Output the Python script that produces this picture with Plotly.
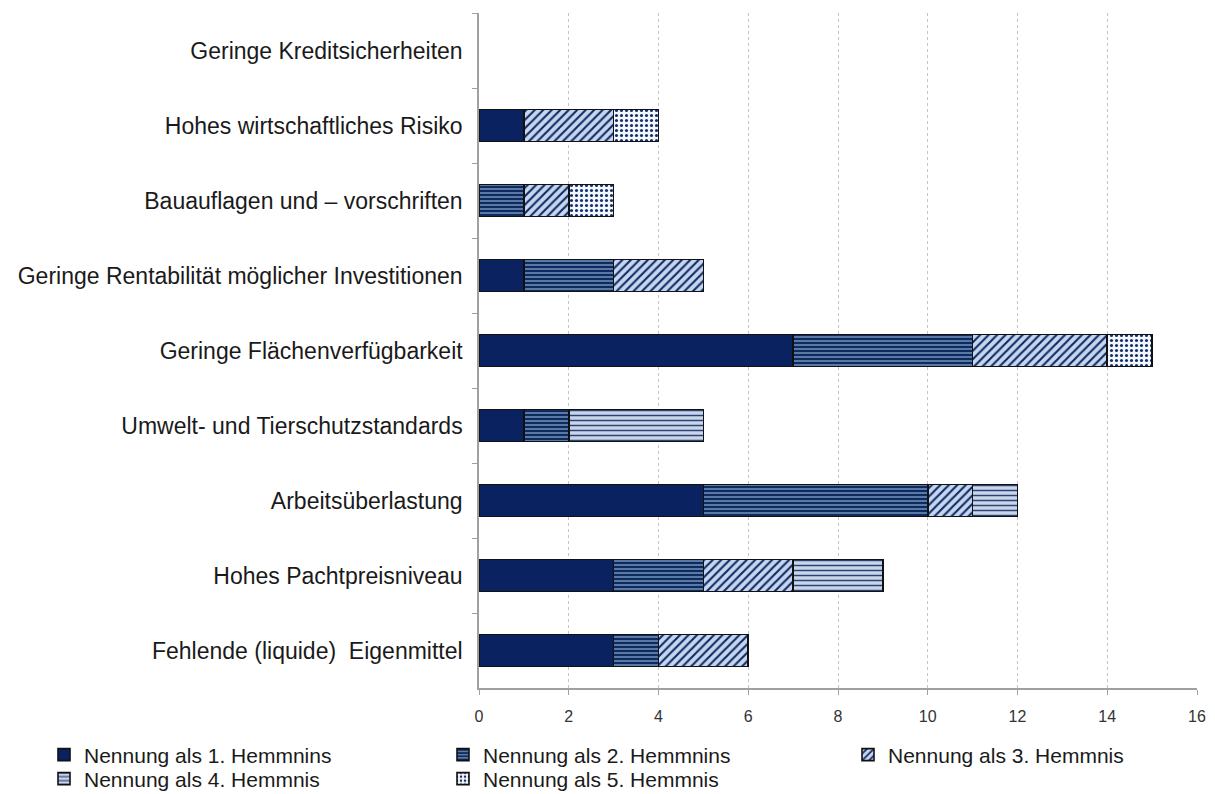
import plotly.graph_objects as go

# Obstacles, listed from top to bottom
categories = [
    "Geringe Kreditsicherheiten",
    "Hohes wirtschaftliches Risiko",
    "Bauauflagen und – vorschriften",
    "Geringe Rentabilität möglicher Investitionen",
    "Geringe Flächenverfügbarkeit",
    "Umwelt- und Tierschutzstandards",
    "Arbeitsüberlastung",
    "Hohes Pachtpreisniveau",
    "Fehlende (liquide)  Eigenmittel",
]

series_names = [
    "Nennung als 1. Hemmnins",
    "Nennung als 2. Hemmnins",
    "Nennung als 3. Hemmnis",
    "Nennung als 4. Hemmnis",
    "Nennung als 5. Hemmnis",
]

rank1 = [0, 1, 0, 1, 7, 1, 5, 3, 3]
rank2 = [0, 0, 1, 2, 4, 1, 5, 2, 1]
rank3 = [0, 2, 1, 2, 3, 0, 1, 2, 2]
rank4 = [0, 0, 0, 0, 0, 3, 1, 2, 0]
rank5 = [0, 1, 1, 0, 1, 0, 0, 0, 0]

x_ticks = [0, 2, 4, 6, 8, 10, 12, 14, 16]

NAVY = "#0b2260"
FONT = "Liberation Sans, Arial, sans-serif"
TEXT = "#1a1a1a"

styles = [
    dict(color=NAVY, pattern=dict(shape="")),
    dict(color="#46638f", pattern=dict(shape="-", fgcolor="#0e2a5e", bgcolor="#5a7aa6",
                                      size=4, solidity=0.5, fillmode="replace")),
    dict(color="#c6d6ef", pattern=dict(shape="/", fgcolor="#102a63", bgcolor="#c6d6ef",
                                      size=6, solidity=0.35, fillmode="replace")),
    dict(color="#c4d0e6", pattern=dict(shape="-", fgcolor="#2c4373", bgcolor="#c9d5ea",
                                      size=5, solidity=0.3, fillmode="replace")),
    dict(color="#ffffff", pattern=dict(shape=".", fgcolor="#13306b", bgcolor="#f4f7fc",
                                      size=5, solidity=0.3, fillmode="replace")),
]

# one legend box per entry: three columns, two rows
legend_ids = ["legend", "legend2", "legend3", "legend4", "legend5"]
legend_pos = [(44, 755), (443, 755), (848, 755), (44, 779), (443, 779)]

fig = go.Figure()
for name, values, st, lid in zip(series_names, [rank1, rank2, rank3, rank4, rank5],
                                 styles, legend_ids):
    # non-empty segments first, so the legend swatch picks up a real outline;
    # the axis keeps its own category order
    order = sorted(range(len(values)), key=lambda i: values[i] == 0)
    ys = [categories[i] for i in order]
    xs = [values[i] for i in order]
    # empty segments get no outline
    outline = ["#111111" if v else "rgba(0,0,0,0)" for v in xs]
    fig.add_trace(go.Bar(
        y=ys,
        x=xs,
        name=name,
        orientation="h",
        legend=lid,
        marker=dict(
            color=st["color"],
            pattern=st["pattern"],
            line=dict(color=outline, width=1.6),
        ),
    ))

W, H = 1215, 794
legend_layout = {}
for lid, (lx, ly) in zip(legend_ids, legend_pos):
    legend_layout[lid] = dict(
        xref="container", yref="container",
        x=lx / W, xanchor="left",
        y=1 - ly / H, yanchor="middle",
        font=dict(size=21, family=FONT, color=TEXT),
        bgcolor="rgba(0,0,0,0)",
        itemwidth=30,
    )

fig.update_layout(
    barmode="stack",
    bargap=0.57,
    width=W,
    height=H,
    margin=dict(l=479, r=18, t=13, b=106, autoexpand=False),
    paper_bgcolor="white",
    plot_bgcolor="white",
    font=dict(family=FONT, color=TEXT),
    showlegend=True,
    xaxis=dict(
        range=[0, 16],
        tickvals=x_ticks,
        automargin=False,
        showgrid=True,
        gridcolor="#c4c4c4",
        griddash="3px,3px",
        gridwidth=1,
        zeroline=False,
        showline=True,
        linecolor="#a0a0a0",
        linewidth=1.5,
        ticks="outside",
        ticklen=5,
        tickcolor="#a0a0a0",
        ticklabelstandoff=8,
        tickfont=dict(size=16, color="#333333"),
    ),
    yaxis=dict(
        categoryorder="array",
        categoryarray=categories,
        range=[8.5, -0.5],
        automargin=False,
        showline=True,
        linecolor="#a0a0a0",
        linewidth=1.5,
        ticks="outside",
        ticklen=5,
        tickcolor="#a0a0a0",
        tickson="boundaries",
        ticklabelstandoff=10,
        tickfont=dict(size=23, color=TEXT),
        showgrid=False,
    ),
    **legend_layout,
)

fig.write_html("out.html")
